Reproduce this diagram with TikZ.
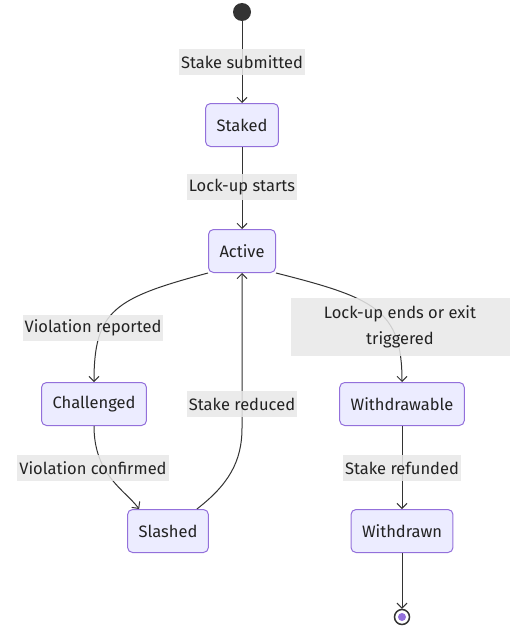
\documentclass[tikz,border=0pt]{standalone}
\usepackage{fontspec}
\setmainfont{Fira Sans}
\usetikzlibrary{arrows.meta}
\definecolor{statefill}{HTML}{ECECFF}
\definecolor{stateline}{HTML}{9370DB}
\definecolor{edgeline}{HTML}{333333}
\definecolor{labelfill}{HTML}{E8E8E8}
\definecolor{textdark}{HTML}{222222}
\begin{document}
\begin{tikzpicture}
[
    x=1pt, y=-1pt,
    every node/.style={font=\fontsize{16.5}{26}\selectfont, text=textdark},
    state/.style={draw=stateline, fill=statefill, rounded corners=5pt, minimum height=43pt, inner xsep=11pt, line width=1pt},
    edgelabel/.style={fill=labelfill, fill opacity=0.85, text opacity=1, inner sep=2pt, minimum height=26pt},
    transition/.style={draw=edgeline, line width=1pt, -{Straight Barb[length=5pt,width=10pt]}},
]
\useasboundingbox (0,0) rectangle (510,626);
% states
\node[circle, fill=edgeline, minimum size=18pt, inner sep=0pt] (start) at (242,12) {};
\node[state] (staked) at (242,125) {Staked};
\node[state] (active) at (242,251) {Active};
\node[state] (challenged) at (94,404) {Challenged};
\node[state] (withdrawable) at (402,404) {Withdrawable};
\node[state] (slashed) at (168,531) {Slashed};
\node[state] (withdrawn) at (402,531) {Withdrawn};
\node[circle, draw=edgeline, fill=white, line width=1.5pt, minimum size=15pt, inner sep=0pt] (stop) at (402,617) {};
\node[circle, fill=stateline, minimum size=8pt, inner sep=0pt] (stopdot) at (stop) {};
% transitions
\draw[transition] (start) -- (staked);
\draw[transition] (staked) -- (active);
\draw[transition] (active.south west) .. controls (115,298) and (94,310) .. (challenged.north);
\draw[transition] (active.south east) .. controls (375,298) and (402,310) .. (withdrawable.north);
\draw[transition] (challenged.south) .. controls (94,475) and (125,490) .. ([xshift=12pt]slashed.north west);
\coordinate (bend) at (242,428);
\draw[transition] ([xshift=-12pt]slashed.north east) .. controls (228,485) and (242,462) .. (bend) -- (active.south);
\draw[transition] (withdrawable) -- (withdrawn);
\draw[transition] (withdrawn) -- (stop);
% labels
\node[edgelabel] (submitted) at (242,62) {Stake submitted};
\node[edgelabel] (lockup) at (242,187) {Lock-up starts};
\node[edgelabel] (reported) at (93,328) {Violation reported};
\node[edgelabel, minimum width=219pt, minimum height=58pt, align=center] (exit) at (400,327) {Lock-up ends or exit\\triggered};
\node[edgelabel] (reduced) at (242,404) {Stake reduced};
\node[edgelabel] (confirmed) at (93,468) {Violation confirmed};
\node[edgelabel] (refunded) at (402,468) {Stake refunded};
\end{tikzpicture}
\end{document}
